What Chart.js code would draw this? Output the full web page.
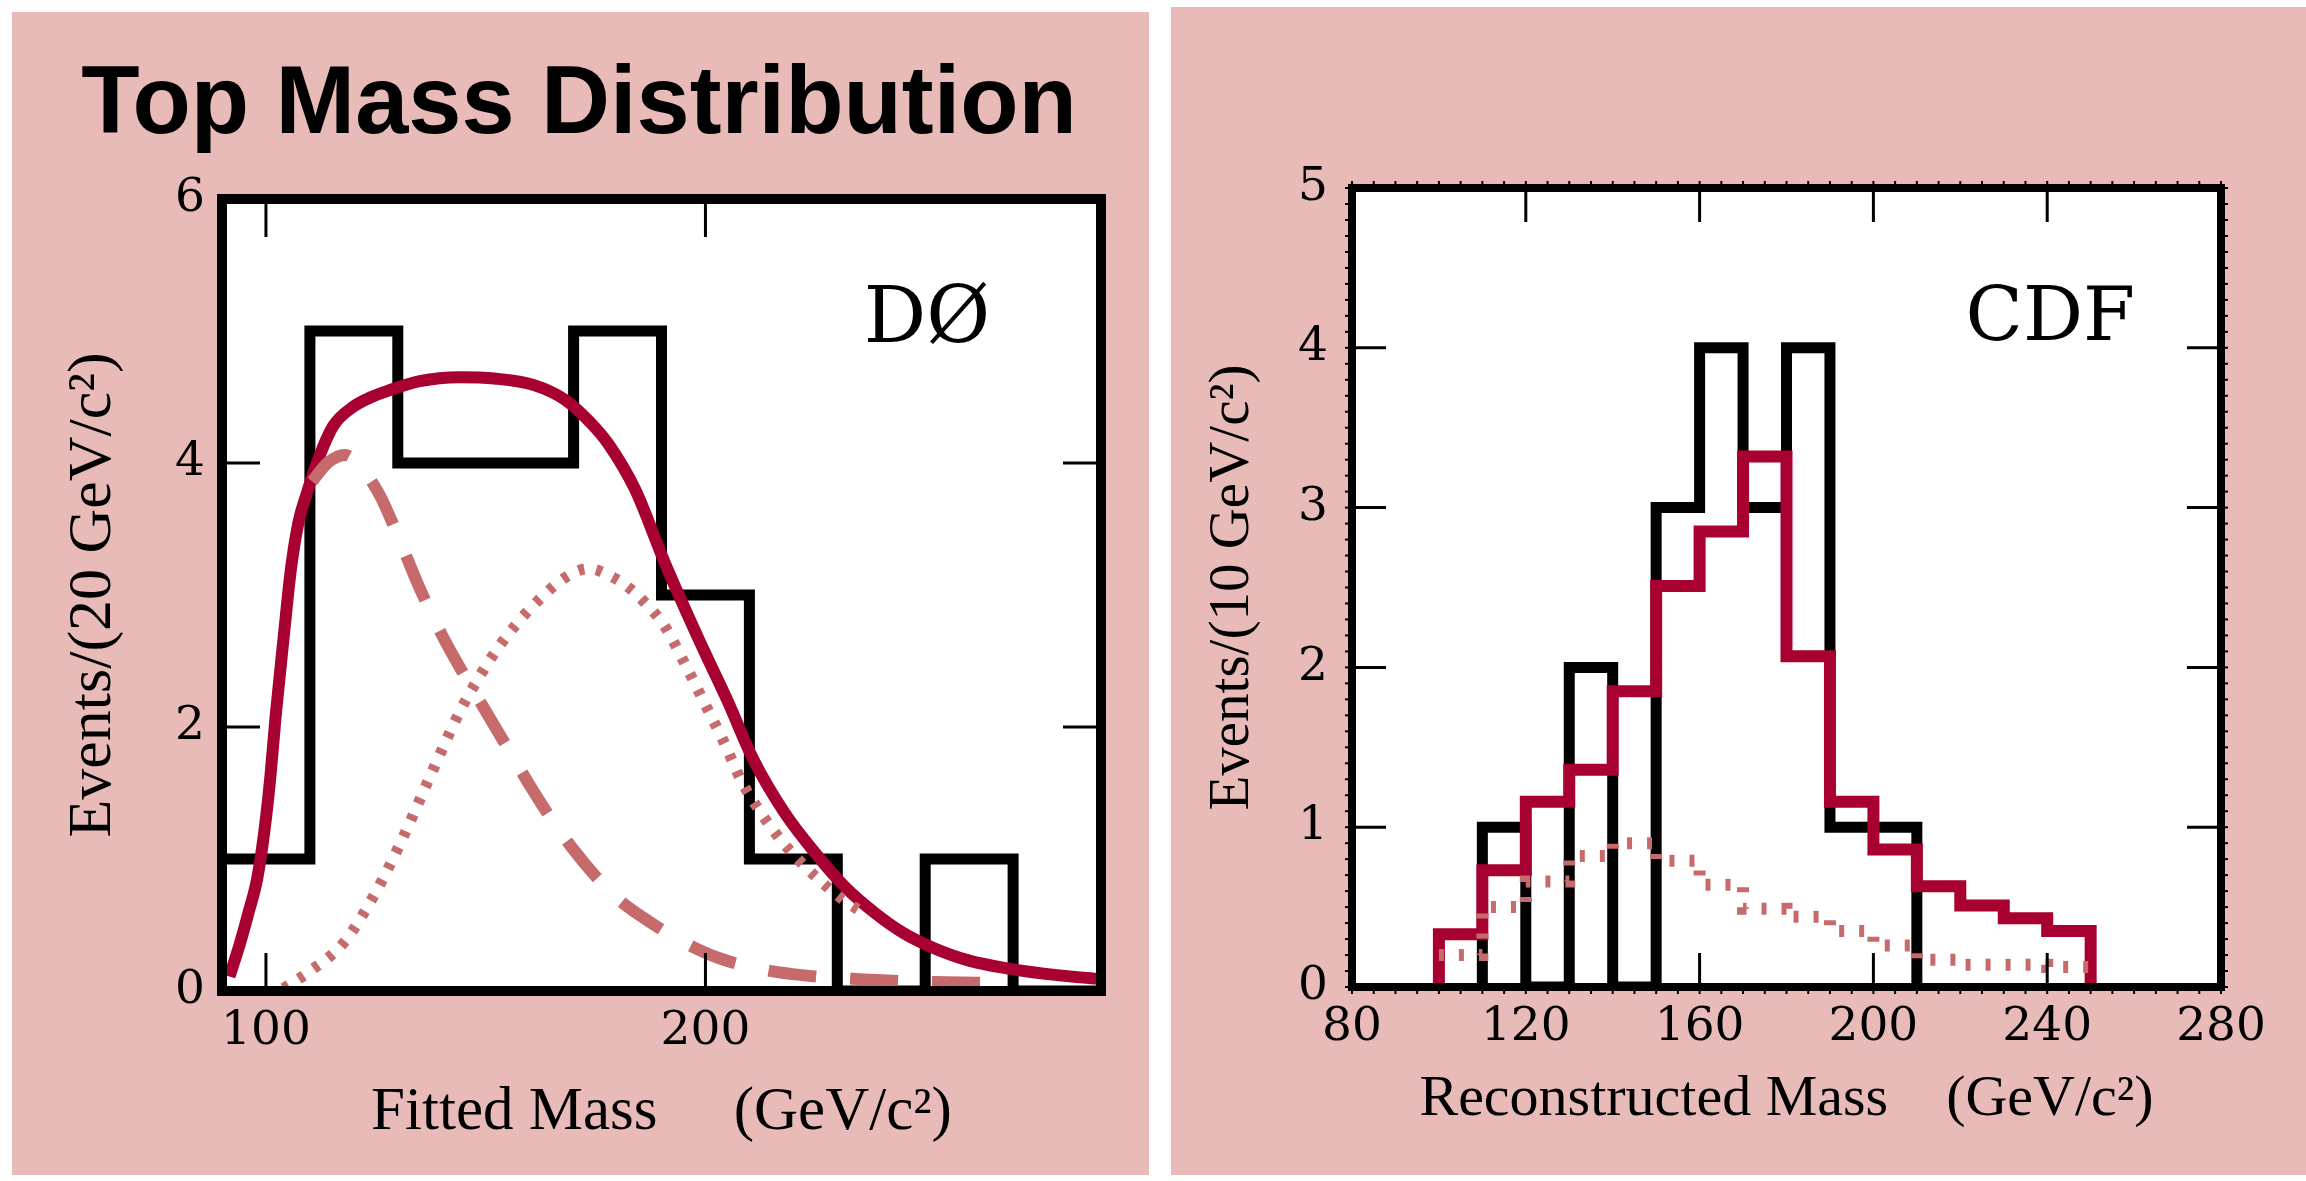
<!DOCTYPE html>
<html><head><meta charset="utf-8">
<script src="https://cdn.jsdelivr.net/npm/chart.js@4.4.1/dist/chart.umd.min.js"></script>
<style>
html,body{margin:0;padding:0;background:#fff;width:2306px;height:1181px;overflow:hidden;}
.panel{position:absolute;background:#E8BBB9;}
canvas{position:absolute;top:0;}
</style></head><body>
<div class="panel" style="left:12px;top:12px;width:1137px;height:1163px"></div>
<div class="panel" style="left:1171px;top:7px;width:1135px;height:1168px"></div>
<canvas id="d0" width="1160" height="1181" style="left:0"></canvas>
<canvas id="cdf" width="1146" height="1181" style="left:1160px"></canvas>
<script>
// ---------- DØ panel data ----------
const d0BinEdges = [90,110,130,150,170,190,210,230,250,270,290];
const d0Counts   = [1,5,4,4,5,3,1,0,1,0];
const d0FitMass  = [91.7,94,96,98,99.6,101,102.2,104,105.7,107.4,109.2,111.8,115.3,119.6,124,128,135,144,152,161,168,174,178,184,190.8,199.5,205,210.8,218,225.6,232,238.6,245,251.6,260,269,280,290];
const d0FitValue = [0.11,0.35,0.59,0.85,1.2,1.62,2.08,2.67,3.2,3.55,3.76,4.02,4.28,4.42,4.5,4.55,4.62,4.65,4.64,4.59,4.48,4.3,4.14,3.8,3.24,2.59,2.2,1.76,1.35,1.02,0.78,0.59,0.44,0.33,0.23,0.17,0.12,0.09];
const d0BkgMass  = [110.5,114,118,122,126,130,135,140,145,150,155,160,165,170,175,180,187,195,203,212,222,235,250,268];
const d0BkgValue = [3.86,4.0,4.06,3.95,3.75,3.45,3.05,2.7,2.4,2.12,1.84,1.56,1.3,1.07,0.87,0.7,0.53,0.37,0.25,0.17,0.12,0.09,0.07,0.06];
const d0SigMass  = [104,110,117.8,125,131,137,144,148,152.6,157,161.4,166,170,173.5,178,182,186,190.8,195,199.5,204,208.2,212,217,221,225.6,231,237];
const d0SigValue = [0.02,0.15,0.37,0.75,1.15,1.6,2.11,2.35,2.59,2.78,2.94,3.08,3.17,3.2,3.15,3.07,2.95,2.76,2.5,2.2,1.9,1.59,1.38,1.15,1.0,0.85,0.7,0.57];
const d0XTicks = [100,200];
const d0YTicks = [0,2,4,6];

// ---------- CDF panel data ----------
const cdfDataEdges  = [110,120,130,140,150,160,170,180,190,200,210];
const cdfDataCounts = [1,0,2,0,3,4,3,4,1,1];
const cdfModelEdges = [100,110,120,130,140,150,160,170,180,190,200,210,220,230,240,250];
const cdfModel      = [0.33,0.73,1.16,1.36,1.85,2.51,2.85,3.32,2.07,1.16,0.86,0.63,0.51,0.43,0.35];
const cdfBkg        = [0.2,0.5,0.66,0.82,0.9,0.79,0.64,0.49,0.44,0.35,0.26,0.17,0.14,0.14,0.125];
const cdfXTicks = [80,120,160,200,240,280];
const cdfYTicks = [0,1,2,3,4,5];

// ---------- helpers ----------
function histPoints(edges, values, closeStart, closeEnd) {
  const pts = [];
  if (closeStart) pts.push({x: edges[0], y: 0});
  values.forEach((v, i) => pts.push({x: edges[i], y: v}));
  pts.push({x: edges[edges.length - 1], y: values[values.length - 1]});
  if (closeEnd) pts.push({x: edges[edges.length - 1], y: 0});
  return pts;
}
function curvePoints(xs, ys) { return xs.map((x, i) => ({x, y: ys[i]})); }

const RED = '#A80030', PINK = '#C66A6C', BLACK = '#000';
const TICKFONT = {family: 'DejaVu Serif', size: 47, lineHeight: 1.2};
Chart.defaults.color = '#000';

const panelPlugin = {
  id: 'panel',
  beforeDatasetsDraw(chart) {
    const {ctx, chartArea: a} = chart;
    ctx.save(); ctx.fillStyle = '#fff';
    ctx.fillRect(a.left, a.top, a.right - a.left, a.bottom - a.top);
    ctx.restore();
  },
  afterDatasetsDraw(chart, args, o) {
    const {ctx, chartArea: a, scales: {x, y}} = chart;
    const line = (x1, y1, x2, y2) => { ctx.beginPath(); ctx.moveTo(x1, y1); ctx.lineTo(x2, y2); ctx.stroke(); };
    ctx.save();
    ctx.strokeStyle = '#000'; ctx.lineCap = 'butt';
    ctx.lineWidth = o.tickWidth;
    o.majorX.forEach(v => { const p = x.getPixelForValue(v); line(p, a.top, p, a.top + o.tickLen); line(p, a.bottom, p, a.bottom - o.tickLen); });
    o.majorY.forEach(v => { const p = y.getPixelForValue(v); line(a.left, p, a.left + o.tickLen, p); line(a.right, p, a.right - o.tickLen, p); });
    if (o.minorXStep) {
      ctx.lineWidth = 2;
      for (let v = x.min; v <= x.max + 1e-9; v += o.minorXStep) {
        const p = x.getPixelForValue(v);
        line(p, a.top, p, a.top - o.frameWidth / 2 - 3); line(p, a.bottom, p, a.bottom + o.frameWidth / 2 + 3);
      }
      for (let v = y.min; v <= y.max + 1e-9; v += o.minorYStep) {
        const p = y.getPixelForValue(v);
        line(a.left, p, a.left - o.frameWidth / 2 - 3, p); line(a.right, p, a.right + o.frameWidth / 2 + 3, p);
      }
    }
    ctx.lineWidth = o.frameWidth; ctx.lineJoin = 'miter';
    ctx.strokeRect(a.left, a.top, a.right - a.left, a.bottom - a.top);
    ctx.fillStyle = '#000'; ctx.font = o.labelFont; ctx.textBaseline = 'alphabetic'; ctx.textAlign = 'left';
    ctx.fillText(o.label, x.getPixelForValue(o.labelX), y.getPixelForValue(o.labelY));
    ctx.restore();
  }
};

function baseScale(min, max, ticks, fitProp, fitVal, pad) {
  return {
    type: 'linear', min, max,
    afterBuildTicks: s => { s.ticks = ticks.map(v => ({value: v})); },
    afterFit: s => { s[fitProp] = fitVal; },
    grid: {display: false, drawTicks: false},
    border: {display: false},
    ticks: {padding: pad, font: TICKFONT, color: '#000', maxRotation: 0, autoSkip: false}
  };
}

// ---------- DØ chart ----------
const d0X = baseScale(90, 290, d0XTicks, 'height', 170, 13);
d0X.title = {display: true, text: 'Fitted Mass     (GeV/c²)', color: '#000', font: {family: 'Liberation Serif', size: 61, lineHeight: 1.2}, padding: {top: 0, bottom: 11}};
const d0Y = baseScale(0, 6, d0YTicks, 'width', 165, 17);
d0Y.title = {display: true, text: 'Events/(20 GeV/c²)', color: '#000', font: {family: 'Liberation Serif', size: 62, lineHeight: 1.2}, padding: {top: 0, bottom: 0}};

new Chart(document.getElementById('d0'), {
  type: 'line',
  data: {datasets: [
    {label: 'Signal', data: curvePoints(d0SigMass, d0SigValue), borderColor: PINK, borderWidth: 11, borderDash: [6, 12], cubicInterpolationMode: 'monotone', pointRadius: 0, fill: false},
    {label: 'Background', data: curvePoints(d0BkgMass, d0BkgValue), borderColor: PINK, borderWidth: 12, borderDash: [48, 34], cubicInterpolationMode: 'monotone', pointRadius: 0, fill: false},
    {label: 'Fit', data: curvePoints(d0FitMass, d0FitValue), borderColor: RED, borderWidth: 12, cubicInterpolationMode: 'monotone', pointRadius: 0, fill: false},
    {label: 'Data', data: histPoints(d0BinEdges, d0Counts, false, false), stepped: 'before', borderColor: BLACK, borderWidth: 11, borderJoinStyle: 'miter', pointRadius: 0, fill: false}
  ]},
  options: {
    responsive: false, animation: false, devicePixelRatio: 1,
    layout: {padding: {left: 57, right: 59, top: 0, bottom: 20}},
    plugins: {
      legend: {display: false}, tooltip: {enabled: false},
      title: {display: true, text: 'Top Mass Distribution', color: '#000', font: {family: 'Liberation Sans', size: 95.5, weight: 'bold', lineHeight: 1.2}, padding: {top: 49, bottom: 35.4}},
      panel: {frameWidth: 10, tickWidth: 3, tickLen: 38, majorX: d0XTicks, majorY: [2, 4], label: 'DØ', labelX: 236, labelY: 4.92, labelFont: '78px "DejaVu Serif"'}
    },
    scales: {x: d0X, y: d0Y}
  },
  plugins: [panelPlugin]
});

// ---------- CDF chart ----------
const cX = baseScale(80, 280, cdfXTicks, 'height', 170, 13);
cX.title = {display: true, text: 'Reconstructed Mass    (GeV/c²)', color: '#000', font: {family: 'Liberation Serif', size: 58, lineHeight: 1.2}, padding: {top: 0, bottom: 22}};
const cY = baseScale(0, 5, cdfYTicks, 'width', 160, 24);
cY.title = {display: true, text: 'Events/(10 GeV/c²)', color: '#000', font: {family: 'Liberation Serif', size: 57, lineHeight: 1.2}, padding: {top: 6.6, bottom: 0}};

new Chart(document.getElementById('cdf'), {
  type: 'line',
  data: {datasets: [
    {label: 'Background', data: histPoints(cdfModelEdges, cdfBkg, false, false), stepped: 'before', borderColor: PINK, borderWidth: 12, borderDash: [5, 15], pointRadius: 0, fill: false},
    {label: 'Signal + Background', data: histPoints(cdfModelEdges, cdfModel, true, true), stepped: 'before', borderColor: RED, borderWidth: 12, borderJoinStyle: 'miter', pointRadius: 0, fill: false},
    {label: 'Data', data: histPoints(cdfDataEdges, cdfDataCounts, true, true), stepped: 'before', borderColor: BLACK, borderWidth: 11, borderJoinStyle: 'miter', pointRadius: 0, fill: false}
  ]},
  options: {
    responsive: false, animation: false, devicePixelRatio: 1,
    layout: {padding: {left: 32, right: 85, top: 188, bottom: 24}},
    plugins: {
      legend: {display: false}, tooltip: {enabled: false},
      panel: {frameWidth: 8, tickWidth: 3, tickLen: 34, majorX: [120, 160, 200, 240], majorY: [1, 2, 3, 4], minorXStep: 5, minorYStep: 0.1, label: 'CDF', labelX: 221.2, labelY: 4.05, labelFont: '75px "DejaVu Serif"'}
    },
    scales: {x: cX, y: cY}
  },
  plugins: [panelPlugin]
});
</script></body></html>
